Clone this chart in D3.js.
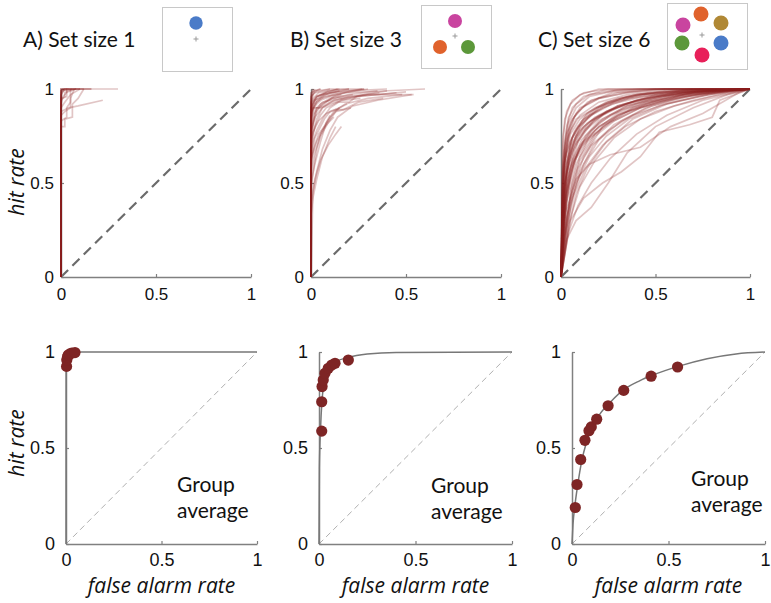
<!DOCTYPE html>
<html>
<head>
<meta charset="utf-8">
<script src="https://cdn.jsdelivr.net/npm/d3@7"></script>
<style>
  body { margin: 0; background: #fff; }
  svg { display: block; }
</style>
</head>
<body>
<div id="chart"></div>
<script>
// ---- data ----
const tickValues = [0, 0.5, 1];
const panelTitles = ["A) Set size 1", "B) Set size 3", "C) Set size 6"];

// individual participant ROC curves, [false alarm rate, hit rate]
const rocSet1 = [
  [[0,0],[0,0.99],[0.01,1],[0.16,1]],
  [[0,0],[0,0.97],[0.02,1],[0.3,1]],
  [[0,0],[0,0.88],[0.04,0.9],[0.09,0.91],[0.22,0.94]],
  [[0,0],[0,0.8],[0.02,0.8],[0.02,0.84],[0.06,0.85],[0.06,0.92],[0.09,0.95],[0.12,1]],
  [[0,0],[0,0.95],[0.03,0.96],[0.03,0.99],[0.08,1]],
  [[0,0],[0,0.9],[0.02,0.93],[0.05,0.97],[0.05,1]],
  [[0,0],[0,1],[0.1,1]],
  [[0,0],[0,1],[0.04,1]],
  [[0,0],[0,0.98],[0.01,0.99],[0.06,1]],
  [[0,0],[0,0.92],[0.01,0.96],[0.03,0.98],[0.03,1],[0.12,1]],
  [[0,0],[0,0.86],[0.02,0.88],[0.05,0.9],[0.05,0.95],[0.07,1]],
  [[0,0],[0,0.96],[0.01,0.99],[0.03,1]],
  [[0,0],[0,0.99],[0.02,1],[0.16,1]],
  [[0,0],[0,0.94],[0.02,0.96],[0.02,0.98],[0.05,0.99],[0.08,1]],
  [[0,0],[0,1],[0.02,1]],
  [[0,0],[0,0.83],[0.03,0.85],[0.03,0.9],[0.05,0.93],[0.05,0.97],[0.1,1]]
];

const rocSet3 = [
  [[0,0],[0,0.95],[0.01,0.99],[0.05,1]],
  [[0,0],[0,0.92],[0.01,0.97],[0.03,0.99],[0.1,1]],
  [[0,0],[0,0.88],[0.01,0.95],[0.04,0.98],[0.15,1]],
  [[0,0],[0,0.84],[0.01,0.92],[0.03,0.96],[0.08,0.98],[0.28,1]],
  [[0,0],[0,0.78],[0.01,0.88],[0.03,0.93],[0.07,0.96],[0.18,0.98],[0.6,1]],
  [[0,0],[0,0.7],[0.01,0.82],[0.03,0.9],[0.06,0.93],[0.14,0.95],[0.3,0.97],[0.54,0.97]],
  [[0,0],[0,0.62],[0.01,0.75],[0.03,0.84],[0.06,0.9],[0.12,0.94],[0.25,0.96],[0.5,0.985]],
  [[0,0],[0.01,0.45],[0.03,0.56],[0.06,0.68],[0.1,0.78],[0.14,0.85],[0.22,0.91],[0.35,0.94],[0.53,0.97]],
  [[0,0],[0,0.4],[0.02,0.52],[0.05,0.62],[0.09,0.7],[0.13,0.76],[0.16,0.8]],
  [[0,0],[0,0.55],[0.02,0.66],[0.05,0.75],[0.09,0.82],[0.13,0.88],[0.21,0.9]],
  [[0,0],[0,0.85],[0.02,0.92],[0.05,0.95],[0.12,0.97],[0.27,1]],
  [[0,0],[0,0.9],[0.02,0.94],[0.06,0.96],[0.1,0.98],[0.2,1]],
  [[0,0],[0,0.65],[0.01,0.72],[0.03,0.78],[0.06,0.84],[0.1,0.9],[0.16,0.94],[0.28,0.97],[0.4,0.99]],
  [[0,0],[0,0.72],[0.02,0.8],[0.05,0.86],[0.08,0.9],[0.14,0.93],[0.2,0.93],[0.24,0.96],[0.45,0.98]],
  [[0,0],[0,0.33],[0.01,0.42],[0.03,0.52],[0.06,0.64],[0.1,0.74],[0.13,0.8]],
  [[0,0],[0,0.5],[0.02,0.6],[0.05,0.72],[0.08,0.82],[0.12,0.88],[0.18,0.92],[0.3,0.95],[0.48,0.97]],
  [[0,0],[0,0.96],[0.02,0.98],[0.1,1],[0.28,1]],
  [[0,0],[0,0.8],[0.01,0.86],[0.03,0.9],[0.05,0.9],[0.1,0.93],[0.2,0.96],[0.36,0.98]],
  [[0,0],[0,0.6],[0.01,0.68],[0.02,0.74],[0.04,0.78],[0.07,0.84],[0.1,0.88],[0.15,0.9]],
  [[0,0],[0,0.87],[0.01,0.9],[0.04,0.9],[0.08,0.93],[0.12,0.96],[0.18,0.98],[0.3,1]],
  [[0,0],[0,0.75],[0.01,0.82],[0.02,0.87],[0.05,0.92],[0.1,0.95],[0.22,0.97]],
  [[0,0],[0,0.94],[0.01,0.97],[0.02,1]],
  [[0,0],[0,0.98],[0.05,1]],
  [[0,0],[0,0.82],[0.01,0.9],[0.03,0.94],[0.07,0.97],[0.15,0.99]],
  [[0,0],[0,0.68],[0.01,0.77],[0.04,0.83],[0.08,0.87],[0.13,0.89],[0.17,0.89],[0.25,0.93],[0.38,0.95]],
  [[0,0],[0,0.58],[0.01,0.66],[0.03,0.72],[0.06,0.78],[0.09,0.82],[0.12,0.85]],
  [[0,0],[0,0.9],[0.01,0.93],[0.03,0.96],[0.06,0.97],[0.2,0.99],[0.4,1]],
  [[0,0],[0,0.78],[0.02,0.85],[0.06,0.9],[0.1,0.92],[0.16,0.94],[0.26,0.95]],
  [[0,0],[0,0.86],[0.01,0.91],[0.02,0.94],[0.04,0.96],[0.08,0.98],[0.14,1]],
  [[0,0],[0,0.45],[0.01,0.55],[0.03,0.68],[0.05,0.76],[0.08,0.82],[0.1,0.86]],
  [[0,0],[0,0.93],[0.03,0.96],[0.09,0.99],[0.2,1]],
  [[0,0],[0,0.74],[0.01,0.8],[0.03,0.88],[0.06,0.92],[0.11,0.95],[0.2,0.97],[0.35,0.99]],
  [[0,0],[0,0.97],[0.01,1]],
  [[0,0],[0,0.88],[0.02,0.91],[0.05,0.94],[0.1,0.96],[0.16,0.97]],
  [[0,0],[0,0.62],[0.02,0.7],[0.04,0.76],[0.07,0.8],[0.11,0.86],[0.15,0.9],[0.19,0.92]]
];

const rocSet6 = [
  [[0,0],[0.01,0.62],[0.03,0.8],[0.06,0.9],[0.12,0.96],[0.22,0.99],[0.35,1],[1,1]],
  [[0,0],[0.01,0.5],[0.03,0.72],[0.07,0.85],[0.14,0.93],[0.27,0.98],[0.5,1],[1,1]],
  [[0,0],[0.02,0.45],[0.05,0.66],[0.1,0.8],[0.2,0.9],[0.35,0.96],[0.55,0.99],[1,1]],
  [[0,0],[0.01,0.3],[0.04,0.55],[0.09,0.72],[0.17,0.83],[0.3,0.91],[0.5,0.97],[0.75,1],[1,1]],
  [[0,0],[0.02,0.25],[0.06,0.46],[0.12,0.64],[0.22,0.8],[0.38,0.9],[0.58,0.96],[0.8,0.99],[1,1]],
  [[0,0],[0.03,0.2],[0.08,0.3],[0.16,0.37],[0.25,0.5],[0.35,0.66],[0.5,0.8],[0.7,0.9],[0.88,0.97],[1,1]],
  [[0,0],[0.01,0.7],[0.02,0.84],[0.05,0.92],[0.1,0.97],[0.2,1],[1,1]],
  [[0,0],[0.01,0.38],[0.03,0.6],[0.06,0.74],[0.12,0.84],[0.24,0.92],[0.42,0.97],[0.7,0.99],[1,1]],
  [[0,0],[0.02,0.5],[0.05,0.7],[0.1,0.78],[0.18,0.85],[0.3,0.9],[0.48,0.95],[0.72,0.99],[1,1]],
  [[0,0],[0.04,0.28],[0.1,0.48],[0.18,0.62],[0.28,0.74],[0.42,0.84],[0.6,0.91],[0.8,0.96],[1,1]],
  [[0,0],[0.05,0.3],[0.12,0.42],[0.22,0.5],[0.32,0.56],[0.42,0.64],[0.52,0.77],[0.68,0.81],[0.8,0.85],[0.84,0.94],[1,1]],
  [[0,0],[0.03,0.36],[0.08,0.52],[0.15,0.6],[0.26,0.65],[0.42,0.69],[0.58,0.8],[0.75,0.87],[0.94,0.98],[1,1]],
  [[0,0],[0.01,0.45],[0.02,0.65],[0.05,0.78],[0.1,0.86],[0.2,0.93],[0.35,0.97],[0.6,1],[1,1]],
  [[0,0],[0.01,0.2],[0.03,0.42],[0.07,0.62],[0.13,0.75],[0.22,0.84],[0.35,0.91],[0.55,0.96],[0.8,0.99],[1,1]],
  [[0,0],[0.02,0.15],[0.05,0.38],[0.1,0.56],[0.17,0.7],[0.28,0.81],[0.45,0.9],[0.65,0.96],[0.85,0.99],[1,1]],
  [[0,0],[0.01,0.55],[0.04,0.75],[0.08,0.84],[0.15,0.88],[0.25,0.93],[0.4,0.97],[0.62,0.99],[1,1]],
  [[0,0],[0.02,0.4],[0.06,0.6],[0.11,0.7],[0.2,0.8],[0.32,0.87],[0.5,0.93],[0.7,0.97],[1,1]],
  [[0,0],[0.03,0.5],[0.07,0.68],[0.13,0.79],[0.24,0.88],[0.4,0.94],[0.6,0.98],[1,1]],
  [[0,0],[0.01,0.25],[0.04,0.48],[0.08,0.63],[0.15,0.74],[0.26,0.82],[0.42,0.9],[0.62,0.96],[0.85,0.99],[1,1]],
  [[0,0],[0.02,0.6],[0.04,0.78],[0.08,0.87],[0.16,0.94],[0.3,0.98],[0.5,1],[1,1]],
  [[0,0],[0.03,0.4],[0.08,0.6],[0.14,0.72],[0.23,0.81],[0.36,0.88],[0.52,0.93],[0.72,0.97],[0.9,0.99],[1,1]],
  [[0,0],[0.01,0.15],[0.03,0.3],[0.06,0.5],[0.1,0.64],[0.18,0.76],[0.3,0.86],[0.48,0.93],[0.7,0.98],[1,1]],
  [[0,0],[0.02,0.55],[0.05,0.72],[0.09,0.8],[0.16,0.86],[0.27,0.92],[0.44,0.96],[0.66,0.99],[1,1]],
  [[0,0],[0.01,0.75],[0.03,0.88],[0.06,0.94],[0.12,0.98],[0.25,1],[1,1]],
  [[0,0],[0.02,0.32],[0.05,0.54],[0.1,0.7],[0.2,0.82],[0.32,0.89],[0.5,0.94],[0.7,0.98],[1,1]],
  [[0,0],[0.04,0.38],[0.09,0.58],[0.16,0.7],[0.25,0.78],[0.38,0.86],[0.55,0.92],[0.78,0.97],[1,1]],
  [[0,0],[0.01,0.48],[0.03,0.66],[0.07,0.77],[0.13,0.84],[0.22,0.9],[0.36,0.95],[0.58,0.98],[1,1]],
  [[0,0],[0.03,0.26],[0.07,0.44],[0.13,0.58],[0.22,0.7],[0.34,0.8],[0.5,0.88],[0.7,0.94],[0.88,0.98],[1,1]],
  [[0,0],[0.02,0.68],[0.05,0.82],[0.1,0.9],[0.2,0.95],[0.35,0.98],[0.55,1],[1,1]],
  [[0,0],[0.01,0.35],[0.04,0.62],[0.08,0.76],[0.15,0.86],[0.28,0.93],[0.45,0.97],[0.7,1],[1,1]],
  [[0,0],[0.05,0.45],[0.1,0.62],[0.18,0.75],[0.28,0.83],[0.42,0.9],[0.6,0.95],[0.8,0.98],[1,1]],
  [[0,0],[0.02,0.22],[0.06,0.42],[0.12,0.6],[0.2,0.73],[0.32,0.83],[0.48,0.91],[0.68,0.96],[0.88,0.99],[1,1]],
  [[0,0],[0.01,0.6],[0.03,0.76],[0.06,0.84],[0.11,0.9],[0.2,0.95],[0.34,0.98],[0.55,1],[1,1]],
  [[0,0],[0.03,0.45],[0.07,0.62],[0.12,0.72],[0.2,0.8],[0.3,0.86],[0.45,0.92],[0.65,0.97],[1,1]],
  [[0,0],[0.02,0.38],[0.05,0.56],[0.1,0.68],[0.18,0.78],[0.3,0.87],[0.45,0.93],[0.65,0.97],[0.85,0.99],[1,1]],
  [[0,0],[0.01,0.52],[0.02,0.7],[0.04,0.82],[0.08,0.9],[0.15,0.96],[0.28,0.99],[0.45,1],[1,1]],
  [[0,0],[0.04,0.24],[0.09,0.38],[0.16,0.5],[0.26,0.63],[0.4,0.76],[0.56,0.86],[0.75,0.94],[0.92,0.98],[1,1]],
  [[0,0],[0.02,0.42],[0.05,0.58],[0.09,0.68],[0.16,0.78],[0.26,0.86],[0.4,0.92],[0.6,0.97],[0.82,1],[1,1]],
  [[0,0],[0.01,0.28],[0.03,0.48],[0.06,0.62],[0.11,0.73],[0.2,0.83],[0.33,0.9],[0.52,0.96],[0.76,0.99],[1,1]],
  [[0,0],[0.03,0.6],[0.06,0.74],[0.11,0.83],[0.19,0.9],[0.32,0.95],[0.5,0.98],[0.75,1],[1,1]],
  [[0,0],[0.02,0.12],[0.04,0.26],[0.08,0.44],[0.14,0.58],[0.24,0.72],[0.38,0.84],[0.56,0.92],[0.78,0.97],[1,1]],
  [[0,0],[0.01,0.42],[0.03,0.56],[0.06,0.66],[0.1,0.75],[0.18,0.84],[0.3,0.91],[0.48,0.96],[0.72,0.99],[1,1]],
  [[0,0],[0.02,0.72],[0.04,0.85],[0.08,0.92],[0.15,0.97],[0.28,0.99],[0.42,1],[1,1]],
  [[0,0],[0.03,0.32],[0.08,0.5],[0.15,0.64],[0.24,0.75],[0.36,0.84],[0.52,0.91],[0.72,0.96],[0.9,0.99],[1,1]],
  [[0,0],[0.01,0.58],[0.04,0.7],[0.08,0.79],[0.14,0.87],[0.24,0.93],[0.4,0.97],[0.62,0.99],[1,1]],
  [[0,0],[0.02,0.48],[0.04,0.64],[0.08,0.75],[0.14,0.82],[0.24,0.88],[0.38,0.93],[0.58,0.97],[0.8,0.99],[1,1]],
  [[0,0],[0.02,0.5],[0.06,0.7],[0.12,0.8],[0.2,0.86],[0.3,0.91],[0.45,0.95],[0.65,0.98],[1,1]],
  [[0,0],[0.01,0.4],[0.04,0.62],[0.09,0.75],[0.16,0.83],[0.26,0.89],[0.4,0.94],[0.6,0.98],[1,1]],
  [[0,0],[0.03,0.55],[0.07,0.7],[0.13,0.78],[0.22,0.86],[0.34,0.92],[0.5,0.96],[0.7,0.99],[1,1]],
  [[0,0],[0.02,0.62],[0.05,0.76],[0.1,0.84],[0.18,0.9],[0.3,0.95],[0.46,0.98],[0.7,1],[1,1]]
];

// group average points
const avgSet1 = [[0.003,0.925],[0.004,0.958],[0.008,0.975],[0.012,0.984],[0.02,0.99],[0.03,0.994],[0.047,0.997]];
const avgSet3 = [[0.014,0.588],[0.014,0.741],[0.016,0.82],[0.022,0.854],[0.031,0.889],[0.048,0.915],[0.066,0.932],[0.083,0.941],[0.152,0.958]];
const avgSet6 = [[0.017,0.19],[0.026,0.31],[0.045,0.44],[0.067,0.54],[0.088,0.59],[0.1,0.61],[0.128,0.65],[0.187,0.72],[0.268,0.8],[0.41,0.874],[0.547,0.922]];

// fitted model ROC curves
const fitSet1 = [[0,0],[0.0005,0.9],[0.003,0.97],[0.01,0.99],[0.03,0.998],[0.08,1],[1,1]];
const fitSet3 = [[0,0],[0.002,0.4],[0.008,0.6],[0.015,0.74],[0.025,0.83],[0.04,0.89],[0.06,0.925],[0.09,0.95],[0.15,0.972],[0.25,0.99],[0.4,0.998],[1,1]];
const fitSet6 = [[0,0],[0.005,0.1],[0.015,0.2],[0.03,0.31],[0.05,0.43],[0.075,0.53],[0.1,0.6],[0.14,0.67],[0.2,0.74],[0.27,0.805],[0.35,0.85],[0.42,0.88],[0.55,0.925],[0.7,0.965],[0.85,0.99],[1,1]];

// memory display sketches: [dx, dy, colour] inside each inset box
const stimSet1 = [[34,16,"#4a7bc8"]];
const stimSet3 = [[34,16,"#c9449f"],[19,42,"#e0622c"],[47,42,"#5c983a"]];
const stimSet6 = [[34,11,"#e0622c"],[54,20,"#b08835"],[16,22,"#c9449f"],[15,40,"#5c983a"],[54,40,"#4a7bc8"],[35,52,"#e8205a"]];

// ---- layout ----
const width = 771, height = 603;
const tickFont = "'Liberation Sans', Arial, sans-serif";
const textFont = "Lato, 'Open Sans', sans-serif";
const italicFont = "'Open Sans', Lato, sans-serif";
const axisColor = "#808080";
const lineColor = "#8a1e1e";
const dotColor = "#7e2525";

const svg = d3.select("#chart").append("svg")
  .attr("width", width)
  .attr("height", height);

const topPanels = [
  { x0: 61, x1: 251, curves: rocSet1 },
  { x0: 311, x1: 501, curves: rocSet3 },
  { x0: 561, x1: 750, curves: rocSet6 }
];
const bottomPanels = [
  { x0: 66, x1: 257, dots: avgSet1, fit: fitSet1, gx: 177, gy: 492 },
  { x0: 319, x1: 512, dots: avgSet3, fit: fitSet3, gx: 431, gy: 493 },
  { x0: 572, x1: 765, dots: avgSet6, fit: fitSet6, gx: 691, gy: 486 }
];
const insets = [
  { x: 162, y: 7, w: 70, h: 64, px: 34, py: 32, r: 6.7, stim: stimSet1 },
  { x: 421, y: 5, w: 70, h: 63, px: 34, py: 31, r: 7, stim: stimSet3 },
  { x: 667, y: 3, w: 80, h: 66, px: 35, py: 32, r: 7.5, stim: stimSet6 }
];
const titleX = [23, 290, 538];

function drawAxes(g, x, y, yPos, xPos, padX, padY, fontSize) {
  const xAxis = d3.axisBottom(x).tickValues(tickValues).tickSize(-3)
    .tickSizeOuter(0).tickPadding(padX).tickFormat(d => String(d));
  const yAxis = d3.axisLeft(y).tickValues(tickValues).tickSize(-3)
    .tickSizeOuter(0).tickPadding(padY).tickFormat(d => String(d));

  const gx = g.append("g").attr("transform", `translate(0,${yPos})`).call(xAxis);
  const gy = g.append("g").attr("transform", `translate(${xPos},0)`).call(yAxis);
  [gx, gy].forEach(a => {
    a.select(".domain").attr("stroke", axisColor).attr("stroke-width", 1.5);
    a.selectAll(".tick line").attr("stroke", axisColor).attr("stroke-width", 1.2);
    a.selectAll(".tick text")
      .attr("fill", "#111")
      .style("font-family", tickFont)
      .style("font-size", fontSize + "px");
  });
}

// ---- top row: individual ROC curves ----
topPanels.forEach((p, i) => {
  const x = d3.scaleLinear().domain([0, 1]).range([p.x0, p.x1]);
  const y = d3.scaleLinear().domain([0, 1]).range([277, 89]);
  const g = svg.append("g");

  g.append("line")
    .attr("x1", x(0)).attr("y1", y(0))
    .attr("x2", x(1)).attr("y2", y(1))
    .attr("stroke", "#6b6b6b")
    .attr("stroke-width", 2.2)
    .attr("stroke-dasharray", "10,6");

  drawAxes(g, x, y, y(0), x(0), 11, 7, 17);

  const line = d3.line().x(d => x(d[0])).y(d => y(d[1]));
  g.selectAll("path.roc")
    .data(p.curves)
    .join("path")
    .attr("class", "roc")
    .attr("d", line)
    .attr("fill", "none")
    .attr("stroke", lineColor)
    .attr("stroke-opacity", 0.26)
    .attr("stroke-width", 1.7);

  svg.append("text")
    .attr("x", titleX[i]).attr("y", 47)
    .style("font-family", textFont)
    .style("font-size", "21px")
    .attr("fill", "#111")
    .text(panelTitles[i]);
});

// ---- bottom row: group averages with model fit ----
bottomPanels.forEach(p => {
  const x = d3.scaleLinear().domain([0, 1]).range([p.x0, p.x1]);
  const y = d3.scaleLinear().domain([0, 1]).range([544, 352]);
  const g = svg.append("g");

  g.append("line")
    .attr("x1", x(0)).attr("y1", y(0))
    .attr("x2", x(1)).attr("y2", y(1))
    .attr("stroke", "#b0b0b0")
    .attr("stroke-width", 1)
    .attr("stroke-dasharray", "6,4");

  drawAxes(g, x, y, y(0), x(0), 9, 11, 18);

  g.append("path")
    .datum(p.fit)
    .attr("d", d3.line().x(d => x(d[0])).y(d => y(d[1])).curve(d3.curveMonotoneX))
    .attr("fill", "none")
    .attr("stroke", "#777")
    .attr("stroke-width", 1.5);

  g.selectAll("circle")
    .data(p.dots)
    .join("circle")
    .attr("cx", d => x(d[0]))
    .attr("cy", d => y(d[1]))
    .attr("r", 5.6)
    .attr("fill", dotColor);

  const t = g.append("text")
    .style("font-family", textFont)
    .style("font-size", "21px")
    .attr("fill", "#111");
  t.append("tspan").attr("x", p.gx).attr("y", p.gy).text("Group");
  t.append("tspan").attr("x", p.gx).attr("y", p.gy + 26).text("average");

  g.append("text")
    .attr("x", (p.x0 + p.x1) / 2).attr("y", 593)
    .attr("text-anchor", "middle")
    .style("font-family", italicFont)
    .style("font-size", "21px")
    .style("font-style", "italic")
    .attr("fill", "#111")
    .text("false alarm rate");
});

// y labels
[[24, 182], [24, 443]].forEach(([lx, ly]) => {
  svg.append("text")
    .attr("transform", `translate(${lx},${ly}) rotate(-90)`)
    .attr("text-anchor", "middle")
    .style("font-family", italicFont)
    .style("font-size", "21px")
    .style("font-style", "italic")
    .attr("fill", "#111")
    .text("hit rate");
});

// ---- insets showing the memory display ----
insets.forEach(b => {
  const g = svg.append("g").attr("transform", `translate(${b.x},${b.y})`);
  g.append("rect")
    .attr("x", 0.5).attr("y", 0.5)
    .attr("width", b.w).attr("height", b.h)
    .attr("fill", "#fff")
    .attr("stroke", "#c8c8c8");
  g.selectAll("circle")
    .data(b.stim)
    .join("circle")
    .attr("cx", d => d[0]).attr("cy", d => d[1])
    .attr("r", b.r)
    .attr("fill", d => d[2]);
  g.append("path")
    .attr("d", `M${b.px - 2.5},${b.py}H${b.px + 2.5}M${b.px},${b.py - 2.5}V${b.py + 2.5}`)
    .attr("stroke", "#999")
    .attr("stroke-width", 1);
});
</script>
</body>
</html>
